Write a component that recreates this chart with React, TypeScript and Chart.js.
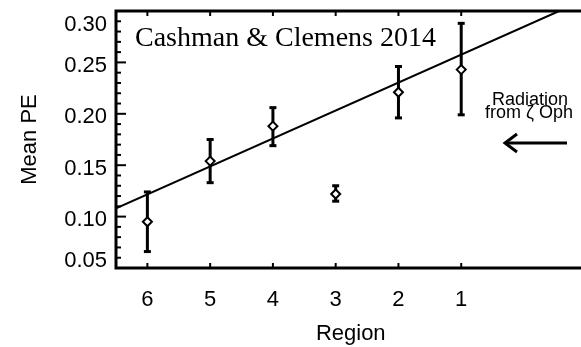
import { useEffect, useRef } from "react";
import { Chart, registerables } from "chart.js";

Chart.register(...registerables);

// Mean photoelectric efficiency per region, with error-bar limits
const regions = [6, 5, 4, 3, 2, 1];
const peMean = [0.095, 0.154, 0.188, 0.122, 0.221, 0.243];
const peLow = [0.066, 0.133, 0.169, 0.115, 0.196, 0.199];
const peHigh = [0.124, 0.175, 0.206, 0.130, 0.246, 0.288];

// Linear fit drawn across the panel
const fitRegion = [6.5, -0.56];
const fitPE = [0.108, 0.3];

// Axis ticks
const xTickValues = [6, 5, 4, 3, 2, 1];
const yTickValues = [0.05, 0.1, 0.15, 0.2, 0.25, 0.3];
const yMinorTicks = [
  0.06, 0.07, 0.08, 0.09, 0.11, 0.12, 0.13, 0.14, 0.16, 0.17, 0.18, 0.19,
  0.21, 0.22, 0.23, 0.24, 0.26, 0.27, 0.28, 0.29,
];

const citation = "Cashman & Clemens 2014";
const radiationLabel = ["Radiation", "from \u03B6 Oph"];

const SANS = '"Liberation Sans", Arial, Helvetica, sans-serif';
const SERIF = '"Liberation Serif", "Times New Roman", serif';

const framePlugin = {
  id: "frame",
  beforeDatasetsDraw(chart: any) {
    const { ctx, chartArea, scales } = chart;
    const { left, top, right, bottom } = chartArea;
    const x = scales.x;
    const y = scales.y;
    const seg = (x1: number, y1: number, x2: number, y2: number) => {
      ctx.beginPath();
      ctx.moveTo(x1, y1);
      ctx.lineTo(x2, y2);
      ctx.stroke();
    };
    ctx.save();
    ctx.strokeStyle = "#000";
    ctx.lineCap = "butt";

    // open frame: top, left and bottom edges
    ctx.lineWidth = 3;
    ctx.beginPath();
    ctx.moveTo(right, top);
    ctx.lineTo(left, top);
    ctx.lineTo(left, bottom);
    ctx.lineTo(right, bottom);
    ctx.stroke();

    // inward tick marks
    ctx.lineWidth = 2;
    yTickValues.forEach((v) => {
      const py = y.getPixelForValue(v);
      seg(left, py, left + 10, py);
    });
    yMinorTicks.forEach((v) => {
      const py = y.getPixelForValue(v);
      seg(left, py, left + 5, py);
    });
    xTickValues.forEach((v) => {
      const px = x.getPixelForValue(v);
      seg(px, bottom, px, bottom - 5);
      seg(px, top, px, top + 5);
    });

    // error bars
    ctx.lineWidth = 3;
    regions.forEach((r, i) => {
      const px = x.getPixelForValue(r);
      const pLo = y.getPixelForValue(peLow[i]);
      const pHi = y.getPixelForValue(peHigh[i]);
      seg(px, pLo, px, pHi);
      seg(px - 3.5, pLo, px + 3.5, pLo);
      seg(px - 3.5, pHi, px + 3.5, pHi);
    });
    ctx.restore();
  },
  afterDraw(chart: any) {
    const { ctx } = chart;
    ctx.save();
    ctx.fillStyle = "#000";

    ctx.font = `28px ${SERIF}`;
    ctx.textAlign = "left";
    ctx.textBaseline = "alphabetic";
    ctx.fillText(citation, 135, 46);

    ctx.font = `18px ${SANS}`;
    ctx.textAlign = "center";
    ctx.fillText(radiationLabel[0], 530, 105);
    ctx.fillText(radiationLabel[1], 529, 118);

    // arrow pointing back toward the lower regions
    ctx.strokeStyle = "#000";
    ctx.lineWidth = 3;
    ctx.lineCap = "butt";
    ctx.beginPath();
    ctx.moveTo(567, 143);
    ctx.lineTo(506, 143);
    ctx.stroke();
    ctx.beginPath();
    ctx.moveTo(517, 134);
    ctx.lineTo(505, 143);
    ctx.lineTo(517, 152);
    ctx.stroke();
    ctx.restore();
  },
};

export default function App() {
  const canvasRef = useRef<HTMLCanvasElement | null>(null);

  useEffect(() => {
    const canvas = canvasRef.current;
    if (!canvas) return;

    const yMin = yTickValues[0];
    const yMax = yTickValues[yTickValues.length - 1];

    const chart = new Chart(canvas, {
      type: "scatter",
      data: {
        datasets: [
          {
            type: "line",
            label: "fit",
            data: fitRegion.map((r, i) => ({ x: r, y: fitPE[i] })),
            borderColor: "#000",
            borderWidth: 2,
            pointRadius: 0,
            fill: false,
            tension: 0,
          },
          {
            label: "Mean PE",
            data: regions.map((r, i) => ({ x: r, y: peMean[i] })),
            pointStyle: "rectRot",
            pointRadius: 4.5,
            pointBorderWidth: 2,
            borderColor: "#000",
            backgroundColor: "#fff",
            pointBackgroundColor: "#fff",
            pointBorderColor: "#000",
          },
        ],
      },
      options: {
        responsive: false,
        animation: false,
        devicePixelRatio: 1,
        layout: { padding: { top: 11, right: 0, bottom: 0, left: 0 } },
        plugins: {
          legend: { display: false },
          tooltip: { enabled: false },
        },
        scales: {
          x: {
            type: "linear",
            reverse: true,
            min: -0.98,
            max: 6.5,
            grid: { display: false, drawTicks: false },
            border: { display: false },
            afterBuildTicks: (scale: any) => {
              scale.ticks = xTickValues.map((v) => ({ value: v }));
            },
            afterFit: (scale: any) => {
              scale.height = 79;
              scale.paddingLeft = 0;
              scale.paddingRight = 0;
            },
            ticks: {
              color: "#000",
              font: { family: SANS, size: 22 },
              padding: 19,
              maxRotation: 0,
              autoSkip: false,
              callback: (v: any) => String(v),
            },
            title: {
              display: true,
              text: "Region",
              color: "#000",
              font: { family: SANS, size: 22 },
              padding: { top: 0, bottom: 0 },
            },
          },
          y: {
            type: "linear",
            min: yMin,
            max: yMax,
            grid: { display: false, drawTicks: false },
            border: { display: false },
            afterBuildTicks: (scale: any) => {
              scale.ticks = yTickValues.map((v) => ({ value: v }));
            },
            afterFit: (scale: any) => {
              scale.width = 116;
              scale.paddingTop = 0;
              scale.paddingBottom = 0;
            },
            ticks: {
              color: "#000",
              font: { family: SANS, size: 22, lineHeight: 0.95 },
              padding: 9,
              labelOffset: 3.5,
              autoSkip: false,
              // end labels are nudged half a line inward so they stay inside the frame
              callback: (v: any) => {
                const n = Number(v);
                const s = n.toFixed(2);
                if (Math.abs(n - yMax) < 1e-9) return ["", s];
                if (Math.abs(n - yMin) < 1e-9) return [s, ""];
                return s;
              },
            },
            title: {
              display: true,
              text: "Mean PE",
              color: "#000",
              font: { family: SANS, size: 22 },
              padding: { top: 17, bottom: 0 },
            },
          },
        },
      },
      plugins: [framePlugin],
    });

    return () => chart.destroy();
  }, []);

  return (
    <div
      style={{
        position: "fixed",
        left: 0,
        top: 0,
        width: 581,
        height: 347,
        overflow: "hidden",
        background: "#fff",
      }}
    >
      <canvas ref={canvasRef} width={592} height={347} style={{ display: "block" }} />
    </div>
  );
}
